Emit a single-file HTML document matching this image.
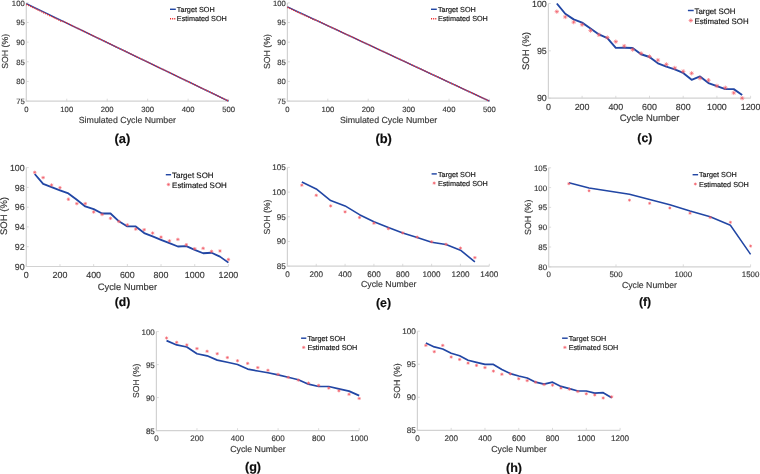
<!DOCTYPE html><html><head><meta charset="utf-8"><style>html,body{margin:0;padding:0;background:#fff;}svg{display:block;font-family:"Liberation Sans",sans-serif;}</style></head><body><svg width="760" height="474" viewBox="0 0 760 474"><rect width="760" height="474" fill="#fff"/><path d="M26.3 2.8V101.1H228.6" fill="none" stroke="#d2d2d2" stroke-width="1.2"/><path d="M26.3 101.1h2.4M26.3 81.44h2.4M26.3 61.78h2.4M26.3 42.12h2.4M26.3 22.46h2.4M26.3 2.8h2.4M26.3 101.1v-2.4M66.76 101.1v-2.4M107.22 101.1v-2.4M147.68 101.1v-2.4M188.14 101.1v-2.4M228.6 101.1v-2.4" stroke="#d2d2d2" stroke-width="0.8"/><polyline points="26.3,3.59 228.6,101.1" fill="none" stroke="#2146a4" stroke-width="1.4" stroke-linejoin="round"/><polyline points="26.3,4.29 61.9,21.48 63.12,21.32 228.6,101.1" fill="none" stroke="#f03030" stroke-width="1.5" stroke-dasharray="1.1 1"/><path d="M170 9.3H175.8" stroke="#2146a4" stroke-width="1.45"/><path d="M170 18.7H175.8" stroke="#f03030" stroke-width="1.5" stroke-dasharray="1.1 1"/><path d="M287.4 2.9V101.1H489.4" fill="none" stroke="#d2d2d2" stroke-width="1.2"/><path d="M287.4 101.1h2.4M287.4 81.46h2.4M287.4 61.82h2.4M287.4 42.18h2.4M287.4 22.54h2.4M287.4 2.9h2.4M287.4 101.1v-2.4M327.8 101.1v-2.4M368.2 101.1v-2.4M408.6 101.1v-2.4M449 101.1v-2.4M489.4 101.1v-2.4" stroke="#d2d2d2" stroke-width="0.8"/><polyline points="287.4,6.83 489.4,101.1" fill="none" stroke="#2146a4" stroke-width="1.4" stroke-linejoin="round"/><polyline points="287.4,7.3 314.06,19.71 314.87,19.63 489.4,101.1" fill="none" stroke="#f03030" stroke-width="1.5" stroke-dasharray="1.1 1"/><path d="M431 9.3H436.8" stroke="#2146a4" stroke-width="1.45"/><path d="M431 18.7H436.8" stroke="#f03030" stroke-width="1.5" stroke-dasharray="1.1 1"/><path d="M548.4 3.5V98.2H750.6" fill="none" stroke="#d2d2d2" stroke-width="1.2"/><path d="M548.4 98.2h2.4M548.4 50.85h2.4M548.4 3.5h2.4M548.4 98.2v-2.4M582.1 98.2v-2.4M615.8 98.2v-2.4M649.5 98.2v-2.4M683.2 98.2v-2.4M716.9 98.2v-2.4M750.6 98.2v-2.4" stroke="#d2d2d2" stroke-width="0.8"/><polyline points="556.82,3.5 565.25,13.73 573.67,19.41 582.1,22.63 590.52,28.5 598.95,34.47 607.38,38.07 615.8,47.91 624.23,47.72 632.65,48.01 641.08,54.26 649.5,57.01 657.92,63.35 666.35,66.57 674.77,69.32 683.2,72.92 691.62,79.83 700.05,76.42 708.48,83.05 716.9,86.17 725.33,89.11 733.75,89.11 742.18,94.98" fill="none" stroke="#2146a4" stroke-width="1.9" stroke-linejoin="round"/><path d="M554.64 11.64h4.36M556.82 9.46v4.36M555.3 10.12l3.05 3.05M555.3 13.17l3.05 -3.05" stroke="#f25c66" stroke-width="0.75" stroke-opacity="0.85"/><path d="M563.07 16.95h4.36M565.25 14.77v4.36M563.72 15.42l3.05 3.05M563.72 18.47l3.05 -3.05" stroke="#f25c66" stroke-width="0.75" stroke-opacity="0.85"/><path d="M571.5 22.16h4.36M573.67 19.98v4.36M572.15 20.63l3.05 3.05M572.15 23.68l3.05 -3.05" stroke="#f25c66" stroke-width="0.75" stroke-opacity="0.85"/><path d="M579.92 24.71h4.36M582.1 22.53v4.36M580.57 23.19l3.05 3.05M580.57 26.24l3.05 -3.05" stroke="#f25c66" stroke-width="0.75" stroke-opacity="0.85"/><path d="M588.35 30.58h4.36M590.52 28.4v4.36M589 29.06l3.05 3.05M589 32.11l3.05 -3.05" stroke="#f25c66" stroke-width="0.75" stroke-opacity="0.85"/><path d="M596.77 34.85h4.36M598.95 32.67v4.36M597.42 33.32l3.05 3.05M597.42 36.37l3.05 -3.05" stroke="#f25c66" stroke-width="0.75" stroke-opacity="0.85"/><path d="M605.2 37.59h4.36M607.38 35.41v4.36M605.85 36.07l3.05 3.05M605.85 39.12l3.05 -3.05" stroke="#f25c66" stroke-width="0.75" stroke-opacity="0.85"/><path d="M613.62 41.66h4.36M615.8 39.48v4.36M614.27 40.14l3.05 3.05M614.27 43.19l3.05 -3.05" stroke="#f25c66" stroke-width="0.75" stroke-opacity="0.85"/><path d="M622.05 46.12h4.36M624.23 43.94v4.36M622.7 44.59l3.05 3.05M622.7 47.64l3.05 -3.05" stroke="#f25c66" stroke-width="0.75" stroke-opacity="0.85"/><path d="M630.47 49.62h4.36M632.65 47.44v4.36M631.12 48.09l3.05 3.05M631.12 51.14l3.05 -3.05" stroke="#f25c66" stroke-width="0.75" stroke-opacity="0.85"/><path d="M638.9 53.41h4.36M641.08 51.23v4.36M639.55 51.88l3.05 3.05M639.55 54.93l3.05 -3.05" stroke="#f25c66" stroke-width="0.75" stroke-opacity="0.85"/><path d="M647.32 56.53h4.36M649.5 54.35v4.36M647.97 55.01l3.05 3.05M647.97 58.06l3.05 -3.05" stroke="#f25c66" stroke-width="0.75" stroke-opacity="0.85"/><path d="M655.75 60.13h4.36M657.92 57.95v4.36M656.4 58.6l3.05 3.05M656.4 61.66l3.05 -3.05" stroke="#f25c66" stroke-width="0.75" stroke-opacity="0.85"/><path d="M664.17 64.39h4.36M666.35 62.21v4.36M664.82 62.87l3.05 3.05M664.82 65.92l3.05 -3.05" stroke="#f25c66" stroke-width="0.75" stroke-opacity="0.85"/><path d="M672.6 67.99h4.36M674.77 65.81v4.36M673.25 66.46l3.05 3.05M673.25 69.52l3.05 -3.05" stroke="#f25c66" stroke-width="0.75" stroke-opacity="0.85"/><path d="M681.02 71.4h4.36M683.2 69.22v4.36M681.67 69.87l3.05 3.05M681.67 72.93l3.05 -3.05" stroke="#f25c66" stroke-width="0.75" stroke-opacity="0.85"/><path d="M689.45 73.29h4.36M691.62 71.11v4.36M690.1 71.77l3.05 3.05M690.1 74.82l3.05 -3.05" stroke="#f25c66" stroke-width="0.75" stroke-opacity="0.85"/><path d="M697.87 78.22h4.36M700.05 76.04v4.36M698.52 76.69l3.05 3.05M698.52 79.74l3.05 -3.05" stroke="#f25c66" stroke-width="0.75" stroke-opacity="0.85"/><path d="M706.3 80.21h4.36M708.48 78.03v4.36M706.95 78.68l3.05 3.05M706.95 81.73l3.05 -3.05" stroke="#f25c66" stroke-width="0.75" stroke-opacity="0.85"/><path d="M714.72 85.89h4.36M716.9 83.71v4.36M715.37 84.36l3.05 3.05M715.37 87.42l3.05 -3.05" stroke="#f25c66" stroke-width="0.75" stroke-opacity="0.85"/><path d="M723.15 87.78h4.36M725.33 85.6v4.36M723.8 86.26l3.05 3.05M723.8 89.31l3.05 -3.05" stroke="#f25c66" stroke-width="0.75" stroke-opacity="0.85"/><path d="M731.57 92.9h4.36M733.75 90.72v4.36M732.22 91.37l3.05 3.05M732.22 94.42l3.05 -3.05" stroke="#f25c66" stroke-width="0.75" stroke-opacity="0.85"/><path d="M740 98.2h4.36M742.18 96.02v4.36M740.65 96.67l3.05 3.05M740.65 99.73l3.05 -3.05" stroke="#f25c66" stroke-width="0.75" stroke-opacity="0.85"/><path d="M687.9 10.5H693.7" stroke="#2146a4" stroke-width="1.45"/><path d="M688.62 20.5h4.36M690.8 18.32v4.36M689.27 18.97l3.05 3.05M689.27 22.03l3.05 -3.05" stroke="#f25c66" stroke-width="0.75" stroke-opacity="0.85"/><path d="M26.3 167.6V266.5H228.4" fill="none" stroke="#d2d2d2" stroke-width="1.2"/><path d="M26.3 266.5h2.4M26.3 246.72h2.4M26.3 226.94h2.4M26.3 207.16h2.4M26.3 187.38h2.4M26.3 167.6h2.4M26.3 266.5v-2.4M59.98 266.5v-2.4M93.67 266.5v-2.4M127.35 266.5v-2.4M161.03 266.5v-2.4M194.72 266.5v-2.4M228.4 266.5v-2.4" stroke="#d2d2d2" stroke-width="0.8"/><polyline points="34.72,174.03 43.14,183.92 51.56,187.08 59.98,190.35 68.4,193.41 76.83,199.84 85.25,206.47 93.67,209.14 102.09,213.49 110.51,213.49 118.93,221.3 127.35,226.45 135.77,226.45 144.19,233.07 152.61,236.43 161.03,239.8 169.45,243.16 177.88,246.52 186.3,246.13 194.72,249.88 203.14,253.25 211.56,252.75 219.98,256.61 228.4,262.64" fill="none" stroke="#2146a4" stroke-width="1.8" stroke-linejoin="round"/><path d="M33 172.35h3.44M34.72 170.63v3.44M33.52 171.14l2.41 2.41M33.52 173.55l2.41 -2.41" stroke="#f25c66" stroke-width="0.75" stroke-opacity="0.85"/><path d="M41.42 177.59h3.44M43.14 175.87v3.44M41.94 176.38l2.41 2.41M41.94 178.79l2.41 -2.41" stroke="#f25c66" stroke-width="0.75" stroke-opacity="0.85"/><path d="M49.84 185.01h3.44M51.56 183.29v3.44M50.36 183.8l2.41 2.41M50.36 186.21l2.41 -2.41" stroke="#f25c66" stroke-width="0.75" stroke-opacity="0.85"/><path d="M58.26 187.68h3.44M59.98 185.96v3.44M58.78 186.47l2.41 2.41M58.78 188.88l2.41 -2.41" stroke="#f25c66" stroke-width="0.75" stroke-opacity="0.85"/><path d="M66.68 199.25h3.44M68.4 197.53v3.44M67.2 198.04l2.41 2.41M67.2 200.45l2.41 -2.41" stroke="#f25c66" stroke-width="0.75" stroke-opacity="0.85"/><path d="M75.11 203.6h3.44M76.83 201.88v3.44M75.62 202.4l2.41 2.41M75.62 204.8l2.41 -2.41" stroke="#f25c66" stroke-width="0.75" stroke-opacity="0.85"/><path d="M83.53 203.6h3.44M85.25 201.88v3.44M84.04 202.4l2.41 2.41M84.04 204.8l2.41 -2.41" stroke="#f25c66" stroke-width="0.75" stroke-opacity="0.85"/><path d="M91.95 212.01h3.44M93.67 210.29v3.44M92.46 210.8l2.41 2.41M92.46 213.21l2.41 -2.41" stroke="#f25c66" stroke-width="0.75" stroke-opacity="0.85"/><path d="M100.37 214.48h3.44M102.09 212.76v3.44M100.88 213.27l2.41 2.41M100.88 215.68l2.41 -2.41" stroke="#f25c66" stroke-width="0.75" stroke-opacity="0.85"/><path d="M108.79 218.34h3.44M110.51 216.62v3.44M109.3 217.13l2.41 2.41M109.3 219.54l2.41 -2.41" stroke="#f25c66" stroke-width="0.75" stroke-opacity="0.85"/><path d="M117.21 221.5h3.44M118.93 219.78v3.44M117.73 220.3l2.41 2.41M117.73 222.7l2.41 -2.41" stroke="#f25c66" stroke-width="0.75" stroke-opacity="0.85"/><path d="M125.63 224.86h3.44M127.35 223.14v3.44M126.15 223.66l2.41 2.41M126.15 226.07l2.41 -2.41" stroke="#f25c66" stroke-width="0.75" stroke-opacity="0.85"/><path d="M134.05 229.12h3.44M135.77 227.4v3.44M134.57 227.91l2.41 2.41M134.57 230.32l2.41 -2.41" stroke="#f25c66" stroke-width="0.75" stroke-opacity="0.85"/><path d="M142.47 229.71h3.44M144.19 227.99v3.44M142.99 228.51l2.41 2.41M142.99 230.91l2.41 -2.41" stroke="#f25c66" stroke-width="0.75" stroke-opacity="0.85"/><path d="M150.89 233.07h3.44M152.61 231.35v3.44M151.41 231.87l2.41 2.41M151.41 234.28l2.41 -2.41" stroke="#f25c66" stroke-width="0.75" stroke-opacity="0.85"/><path d="M159.31 237.13h3.44M161.03 235.41v3.44M159.83 235.92l2.41 2.41M159.83 238.33l2.41 -2.41" stroke="#f25c66" stroke-width="0.75" stroke-opacity="0.85"/><path d="M167.73 240.88h3.44M169.45 239.16v3.44M168.25 239.68l2.41 2.41M168.25 242.09l2.41 -2.41" stroke="#f25c66" stroke-width="0.75" stroke-opacity="0.85"/><path d="M176.16 239.4h3.44M177.88 237.68v3.44M176.67 238.2l2.41 2.41M176.67 240.61l2.41 -2.41" stroke="#f25c66" stroke-width="0.75" stroke-opacity="0.85"/><path d="M184.58 244.74h3.44M186.3 243.02v3.44M185.09 243.54l2.41 2.41M185.09 245.95l2.41 -2.41" stroke="#f25c66" stroke-width="0.75" stroke-opacity="0.85"/><path d="M193 248.7h3.44M194.72 246.98v3.44M193.51 247.49l2.41 2.41M193.51 249.9l2.41 -2.41" stroke="#f25c66" stroke-width="0.75" stroke-opacity="0.85"/><path d="M201.42 248.3h3.44M203.14 246.58v3.44M201.93 247.1l2.41 2.41M201.93 249.51l2.41 -2.41" stroke="#f25c66" stroke-width="0.75" stroke-opacity="0.85"/><path d="M209.84 251.37h3.44M211.56 249.65v3.44M210.35 250.16l2.41 2.41M210.35 252.57l2.41 -2.41" stroke="#f25c66" stroke-width="0.75" stroke-opacity="0.85"/><path d="M218.26 250.97h3.44M219.98 249.25v3.44M218.78 249.77l2.41 2.41M218.78 252.18l2.41 -2.41" stroke="#f25c66" stroke-width="0.75" stroke-opacity="0.85"/><path d="M226.68 259.48h3.44M228.4 257.76v3.44M227.2 258.27l2.41 2.41M227.2 260.68l2.41 -2.41" stroke="#f25c66" stroke-width="0.75" stroke-opacity="0.85"/><path d="M165.8 174.7H171.1" stroke="#2146a4" stroke-width="1.45"/><path d="M166.73 184.5h3.44M168.45 182.78v3.44M167.25 183.3l2.41 2.41M167.25 185.7l2.41 -2.41" stroke="#f25c66" stroke-width="0.75" stroke-opacity="0.85"/><path d="M287.4 167.4V266.2H489.3" fill="none" stroke="#d2d2d2" stroke-width="1.2"/><path d="M287.4 266.2h2.4M287.4 241.5h2.4M287.4 216.8h2.4M287.4 192.1h2.4M287.4 167.4h2.4M287.4 266.2v-2.4M316.24 266.2v-2.4M345.09 266.2v-2.4M373.93 266.2v-2.4M402.77 266.2v-2.4M431.61 266.2v-2.4M460.46 266.2v-2.4M489.3 266.2v-2.4" stroke="#d2d2d2" stroke-width="0.8"/><polyline points="301.82,182.02 316.24,188.99 330.66,200.6 345.09,205.93 359.51,214.68 373.93,221.69 388.35,227.42 402.77,232.9 417.19,237.5 431.61,242.19 446.04,244.51 460.46,250.19 474.88,261.8" fill="none" stroke="#2146a4" stroke-width="1.6" stroke-linejoin="round"/><path d="M300.21 185.18h3.22M301.82 183.57v3.22M300.69 184.06l2.25 2.25M300.69 186.31l2.25 -2.25" stroke="#f25c66" stroke-width="0.75" stroke-opacity="0.85"/><path d="M314.63 195.31h3.22M316.24 193.7v3.22M315.12 194.18l2.25 2.25M315.12 196.44l2.25 -2.25" stroke="#f25c66" stroke-width="0.75" stroke-opacity="0.85"/><path d="M329.05 205.93h3.22M330.66 204.32v3.22M329.54 204.8l2.25 2.25M329.54 207.06l2.25 -2.25" stroke="#f25c66" stroke-width="0.75" stroke-opacity="0.85"/><path d="M343.48 211.86h3.22M345.09 210.25v3.22M343.96 210.73l2.25 2.25M343.96 212.99l2.25 -2.25" stroke="#f25c66" stroke-width="0.75" stroke-opacity="0.85"/><path d="M357.9 217.49h3.22M359.51 215.88v3.22M358.38 216.36l2.25 2.25M358.38 218.62l2.25 -2.25" stroke="#f25c66" stroke-width="0.75" stroke-opacity="0.85"/><path d="M372.32 223.22h3.22M373.93 221.61v3.22M372.8 222.09l2.25 2.25M372.8 224.35l2.25 -2.25" stroke="#f25c66" stroke-width="0.75" stroke-opacity="0.85"/><path d="M386.74 228.66h3.22M388.35 227.05v3.22M387.22 227.53l2.25 2.25M387.22 229.78l2.25 -2.25" stroke="#f25c66" stroke-width="0.75" stroke-opacity="0.85"/><path d="M401.16 232.9h3.22M402.77 231.29v3.22M401.64 231.78l2.25 2.25M401.64 234.03l2.25 -2.25" stroke="#f25c66" stroke-width="0.75" stroke-opacity="0.85"/><path d="M415.58 237.1h3.22M417.19 235.49v3.22M416.07 235.98l2.25 2.25M416.07 238.23l2.25 -2.25" stroke="#f25c66" stroke-width="0.75" stroke-opacity="0.85"/><path d="M430 241.75h3.22M431.61 240.14v3.22M430.49 240.62l2.25 2.25M430.49 242.87l2.25 -2.25" stroke="#f25c66" stroke-width="0.75" stroke-opacity="0.85"/><path d="M444.43 244.32h3.22M446.04 242.71v3.22M444.91 243.19l2.25 2.25M444.91 245.44l2.25 -2.25" stroke="#f25c66" stroke-width="0.75" stroke-opacity="0.85"/><path d="M458.85 248.12h3.22M460.46 246.51v3.22M459.33 246.99l2.25 2.25M459.33 249.25l2.25 -2.25" stroke="#f25c66" stroke-width="0.75" stroke-opacity="0.85"/><path d="M473.27 257.6h3.22M474.88 255.99v3.22M473.75 256.48l2.25 2.25M473.75 258.73l2.25 -2.25" stroke="#f25c66" stroke-width="0.75" stroke-opacity="0.85"/><path d="M431.6 173.9H436.8" stroke="#2146a4" stroke-width="1.45"/><path d="M432.59 183.1h3.22M434.2 181.49v3.22M433.07 181.97l2.25 2.25M433.07 184.23l2.25 -2.25" stroke="#f25c66" stroke-width="0.75" stroke-opacity="0.85"/><path d="M548.7 167.8V266.8H750.6" fill="none" stroke="#d2d2d2" stroke-width="1.2"/><path d="M548.7 266.8h2.4M548.7 247h2.4M548.7 227.2h2.4M548.7 207.4h2.4M548.7 187.6h2.4M548.7 167.8h2.4M548.7 266.8v-2.4M616 266.8v-2.4M683.3 266.8v-2.4M750.6 266.8v-2.4" stroke="#d2d2d2" stroke-width="0.8"/><polyline points="568.89,182.69 589.08,187.92 629.46,194.33 649.65,199.48 669.84,204.79 690.03,211.08 710.22,216.79 730.41,225.3 750.6,254.41" fill="none" stroke="#2146a4" stroke-width="1.5" stroke-linejoin="round"/><path d="M567.4 183.72h2.98M568.89 182.23v2.98M567.85 182.68l2.09 2.09M567.85 184.76l2.09 -2.09" stroke="#f25c66" stroke-width="0.75" stroke-opacity="0.85"/><path d="M587.59 190.77h2.98M589.08 189.28v2.98M588.04 189.72l2.09 2.09M588.04 191.81l2.09 -2.09" stroke="#f25c66" stroke-width="0.75" stroke-opacity="0.85"/><path d="M627.97 200.19h2.98M629.46 198.7v2.98M628.42 199.15l2.09 2.09M628.42 201.24l2.09 -2.09" stroke="#f25c66" stroke-width="0.75" stroke-opacity="0.85"/><path d="M648.16 203.32h2.98M649.65 201.83v2.98M648.61 202.28l2.09 2.09M648.61 204.36l2.09 -2.09" stroke="#f25c66" stroke-width="0.75" stroke-opacity="0.85"/><path d="M668.35 207.99h2.98M669.84 206.5v2.98M668.8 206.95l2.09 2.09M668.8 209.04l2.09 -2.09" stroke="#f25c66" stroke-width="0.75" stroke-opacity="0.85"/><path d="M688.54 213.22h2.98M690.03 211.73v2.98M688.99 212.18l2.09 2.09M688.99 214.26l2.09 -2.09" stroke="#f25c66" stroke-width="0.75" stroke-opacity="0.85"/><path d="M708.73 217.5h2.98M710.22 216.01v2.98M709.18 216.45l2.09 2.09M709.18 218.54l2.09 -2.09" stroke="#f25c66" stroke-width="0.75" stroke-opacity="0.85"/><path d="M728.92 222.29h2.98M730.41 220.8v2.98M729.37 221.25l2.09 2.09M729.37 223.33l2.09 -2.09" stroke="#f25c66" stroke-width="0.75" stroke-opacity="0.85"/><path d="M749.11 246.01h2.98M750.6 244.52v2.98M749.56 244.97l2.09 2.09M749.56 247.05l2.09 -2.09" stroke="#f25c66" stroke-width="0.75" stroke-opacity="0.85"/><path d="M692.6 174.7H698.1" stroke="#2146a4" stroke-width="1.45"/><path d="M693.86 184h2.98M695.35 182.51v2.98M694.31 182.96l2.09 2.09M694.31 185.04l2.09 -2.09" stroke="#f25c66" stroke-width="0.75" stroke-opacity="0.85"/><path d="M156.4 331.6V430.6H359.2" fill="none" stroke="#d2d2d2" stroke-width="1.2"/><path d="M156.4 430.6h2.4M156.4 397.6h2.4M156.4 364.6h2.4M156.4 331.6h2.4M156.4 430.6v-2.4M196.96 430.6v-2.4M237.52 430.6v-2.4M278.08 430.6v-2.4M318.64 430.6v-2.4M359.2 430.6v-2.4" stroke="#d2d2d2" stroke-width="0.8"/><polyline points="166.54,340.64 176.68,344.93 186.82,347.04 196.96,353.71 207.1,355.82 217.24,360.11 227.38,362.22 237.52,364.53 247.66,369.09 257.8,371 267.94,372.78 278.08,374.9 288.22,377.21 298.36,379.71 308.5,384.2 318.64,386.51 328.78,386.51 338.92,388.82 349.06,391.13 359.2,395.62" fill="none" stroke="#2146a4" stroke-width="1.7" stroke-linejoin="round"/><path d="M164.93 338h3.22M166.54 336.39v3.22M165.41 336.88l2.25 2.25M165.41 339.13l2.25 -2.25" stroke="#f25c66" stroke-width="0.75" stroke-opacity="0.85"/><path d="M175.07 342.36h3.22M176.68 340.75v3.22M175.55 341.23l2.25 2.25M175.55 343.49l2.25 -2.25" stroke="#f25c66" stroke-width="0.75" stroke-opacity="0.85"/><path d="M185.21 344.93h3.22M186.82 343.32v3.22M185.69 343.81l2.25 2.25M185.69 346.06l2.25 -2.25" stroke="#f25c66" stroke-width="0.75" stroke-opacity="0.85"/><path d="M195.35 348.56h3.22M196.96 346.95v3.22M195.83 347.44l2.25 2.25M195.83 349.69l2.25 -2.25" stroke="#f25c66" stroke-width="0.75" stroke-opacity="0.85"/><path d="M205.49 351.27h3.22M207.1 349.66v3.22M205.97 350.14l2.25 2.25M205.97 352.4l2.25 -2.25" stroke="#f25c66" stroke-width="0.75" stroke-opacity="0.85"/><path d="M215.63 353.71h3.22M217.24 352.1v3.22M216.11 352.58l2.25 2.25M216.11 354.84l2.25 -2.25" stroke="#f25c66" stroke-width="0.75" stroke-opacity="0.85"/><path d="M225.77 357.54h3.22M227.38 355.93v3.22M226.25 356.41l2.25 2.25M226.25 358.67l2.25 -2.25" stroke="#f25c66" stroke-width="0.75" stroke-opacity="0.85"/><path d="M235.91 360.71h3.22M237.52 359.1v3.22M236.39 359.58l2.25 2.25M236.39 361.83l2.25 -2.25" stroke="#f25c66" stroke-width="0.75" stroke-opacity="0.85"/><path d="M246.05 363.41h3.22M247.66 361.8v3.22M246.53 362.28l2.25 2.25M246.53 364.54l2.25 -2.25" stroke="#f25c66" stroke-width="0.75" stroke-opacity="0.85"/><path d="M256.19 367.57h3.22M257.8 365.96v3.22M256.67 366.44l2.25 2.25M256.67 368.7l2.25 -2.25" stroke="#f25c66" stroke-width="0.75" stroke-opacity="0.85"/><path d="M266.33 370.28h3.22M267.94 368.67v3.22M266.81 369.15l2.25 2.25M266.81 371.4l2.25 -2.25" stroke="#f25c66" stroke-width="0.75" stroke-opacity="0.85"/><path d="M276.47 374.37h3.22M278.08 372.76v3.22M276.95 373.24l2.25 2.25M276.95 375.5l2.25 -2.25" stroke="#f25c66" stroke-width="0.75" stroke-opacity="0.85"/><path d="M286.61 377.4h3.22M288.22 375.79v3.22M287.09 376.28l2.25 2.25M287.09 378.53l2.25 -2.25" stroke="#f25c66" stroke-width="0.75" stroke-opacity="0.85"/><path d="M296.75 380.11h3.22M298.36 378.5v3.22M297.23 378.98l2.25 2.25M297.23 381.24l2.25 -2.25" stroke="#f25c66" stroke-width="0.75" stroke-opacity="0.85"/><path d="M306.89 383.08h3.22M308.5 381.47v3.22M307.37 381.95l2.25 2.25M307.37 384.21l2.25 -2.25" stroke="#f25c66" stroke-width="0.75" stroke-opacity="0.85"/><path d="M317.03 385.39h3.22M318.64 383.78v3.22M317.51 384.26l2.25 2.25M317.51 386.52l2.25 -2.25" stroke="#f25c66" stroke-width="0.75" stroke-opacity="0.85"/><path d="M327.17 388.1h3.22M328.78 386.49v3.22M327.65 386.97l2.25 2.25M327.65 389.22l2.25 -2.25" stroke="#f25c66" stroke-width="0.75" stroke-opacity="0.85"/><path d="M337.31 390.8h3.22M338.92 389.19v3.22M337.79 389.68l2.25 2.25M337.79 391.93l2.25 -2.25" stroke="#f25c66" stroke-width="0.75" stroke-opacity="0.85"/><path d="M347.45 394.3h3.22M349.06 392.69v3.22M347.93 393.17l2.25 2.25M347.93 395.43l2.25 -2.25" stroke="#f25c66" stroke-width="0.75" stroke-opacity="0.85"/><path d="M357.59 398.46h3.22M359.2 396.85v3.22M358.07 397.33l2.25 2.25M358.07 399.58l2.25 -2.25" stroke="#f25c66" stroke-width="0.75" stroke-opacity="0.85"/><path d="M301.1 338.2H306.3" stroke="#2146a4" stroke-width="1.45"/><path d="M302.09 347.4h3.22M303.7 345.79v3.22M302.57 346.27l2.25 2.25M302.57 348.53l2.25 -2.25" stroke="#f25c66" stroke-width="0.75" stroke-opacity="0.85"/><path d="M417.4 331.2V430.3H620.1" fill="none" stroke="#d2d2d2" stroke-width="1.2"/><path d="M417.4 430.3h2.4M417.4 397.27h2.4M417.4 364.23h2.4M417.4 331.2h2.4M417.4 430.3v-2.4M451.18 430.3v-2.4M484.97 430.3v-2.4M518.75 430.3v-2.4M552.53 430.3v-2.4M586.32 430.3v-2.4M620.1 430.3v-2.4" stroke="#d2d2d2" stroke-width="0.8"/><polyline points="425.85,343.09 434.29,346.92 442.74,349.04 451.18,353.2 459.63,355.71 468.07,360.2 476.52,362.32 484.97,364.43 493.41,364.43 501.86,369.52 510.3,373.61 518.75,375.99 527.2,377.98 535.64,382.2 544.09,384.12 552.53,382.2 560.98,386.43 569.42,388.68 577.87,390.99 586.32,390.99 594.76,393.1 603.21,392.71 611.65,397.8" fill="none" stroke="#2146a4" stroke-width="1.7" stroke-linejoin="round"/><path d="M424.24 345.4h3.22M425.85 343.79v3.22M424.72 344.28l2.25 2.25M424.72 346.53l2.25 -2.25" stroke="#f25c66" stroke-width="0.75" stroke-opacity="0.85"/><path d="M432.68 351.68h3.22M434.29 350.07v3.22M433.16 350.55l2.25 2.25M433.16 352.81l2.25 -2.25" stroke="#f25c66" stroke-width="0.75" stroke-opacity="0.85"/><path d="M441.13 345.4h3.22M442.74 343.79v3.22M441.61 344.28l2.25 2.25M441.61 346.53l2.25 -2.25" stroke="#f25c66" stroke-width="0.75" stroke-opacity="0.85"/><path d="M449.57 357.03h3.22M451.18 355.42v3.22M450.06 355.91l2.25 2.25M450.06 358.16l2.25 -2.25" stroke="#f25c66" stroke-width="0.75" stroke-opacity="0.85"/><path d="M458.02 359.48h3.22M459.63 357.87v3.22M458.5 358.35l2.25 2.25M458.5 360.6l2.25 -2.25" stroke="#f25c66" stroke-width="0.75" stroke-opacity="0.85"/><path d="M466.46 363.11h3.22M468.07 361.5v3.22M466.95 361.98l2.25 2.25M466.95 364.24l2.25 -2.25" stroke="#f25c66" stroke-width="0.75" stroke-opacity="0.85"/><path d="M474.91 365.42h3.22M476.52 363.81v3.22M475.39 364.3l2.25 2.25M475.39 366.55l2.25 -2.25" stroke="#f25c66" stroke-width="0.75" stroke-opacity="0.85"/><path d="M483.36 367.6h3.22M484.97 365.99v3.22M483.84 366.48l2.25 2.25M483.84 368.73l2.25 -2.25" stroke="#f25c66" stroke-width="0.75" stroke-opacity="0.85"/><path d="M491.8 371.1h3.22M493.41 369.49v3.22M492.29 369.98l2.25 2.25M492.29 372.23l2.25 -2.25" stroke="#f25c66" stroke-width="0.75" stroke-opacity="0.85"/><path d="M500.25 374.28h3.22M501.86 372.67v3.22M500.73 373.15l2.25 2.25M500.73 375.4l2.25 -2.25" stroke="#f25c66" stroke-width="0.75" stroke-opacity="0.85"/><path d="M508.69 373.88h3.22M510.3 372.27v3.22M509.18 372.75l2.25 2.25M509.18 375.01l2.25 -2.25" stroke="#f25c66" stroke-width="0.75" stroke-opacity="0.85"/><path d="M517.14 378.7h3.22M518.75 377.09v3.22M517.62 377.57l2.25 2.25M517.62 379.83l2.25 -2.25" stroke="#f25c66" stroke-width="0.75" stroke-opacity="0.85"/><path d="M525.59 380.62h3.22M527.2 379.01v3.22M526.07 379.49l2.25 2.25M526.07 381.74l2.25 -2.25" stroke="#f25c66" stroke-width="0.75" stroke-opacity="0.85"/><path d="M534.03 382.2h3.22M535.64 380.59v3.22M534.51 381.08l2.25 2.25M534.51 383.33l2.25 -2.25" stroke="#f25c66" stroke-width="0.75" stroke-opacity="0.85"/><path d="M542.48 384.52h3.22M544.09 382.91v3.22M542.96 383.39l2.25 2.25M542.96 385.64l2.25 -2.25" stroke="#f25c66" stroke-width="0.75" stroke-opacity="0.85"/><path d="M550.92 385.18h3.22M552.53 383.57v3.22M551.41 384.05l2.25 2.25M551.41 386.3l2.25 -2.25" stroke="#f25c66" stroke-width="0.75" stroke-opacity="0.85"/><path d="M559.37 388.02h3.22M560.98 386.41v3.22M559.85 386.89l2.25 2.25M559.85 389.14l2.25 -2.25" stroke="#f25c66" stroke-width="0.75" stroke-opacity="0.85"/><path d="M567.81 389.21h3.22M569.42 387.6v3.22M568.3 388.08l2.25 2.25M568.3 390.33l2.25 -2.25" stroke="#f25c66" stroke-width="0.75" stroke-opacity="0.85"/><path d="M576.26 391.52h3.22M577.87 389.91v3.22M576.74 390.39l2.25 2.25M576.74 392.65l2.25 -2.25" stroke="#f25c66" stroke-width="0.75" stroke-opacity="0.85"/><path d="M584.71 393.77h3.22M586.32 392.16v3.22M585.19 392.64l2.25 2.25M585.19 394.89l2.25 -2.25" stroke="#f25c66" stroke-width="0.75" stroke-opacity="0.85"/><path d="M593.15 394.95h3.22M594.76 393.34v3.22M593.64 393.83l2.25 2.25M593.64 396.08l2.25 -2.25" stroke="#f25c66" stroke-width="0.75" stroke-opacity="0.85"/><path d="M601.6 397.99h3.22M603.21 396.38v3.22M602.08 396.87l2.25 2.25M602.08 399.12l2.25 -2.25" stroke="#f25c66" stroke-width="0.75" stroke-opacity="0.85"/><path d="M610.04 396.8h3.22M611.65 395.19v3.22M610.53 395.68l2.25 2.25M610.53 397.93l2.25 -2.25" stroke="#f25c66" stroke-width="0.75" stroke-opacity="0.85"/><path d="M562.1 338.2H567.7" stroke="#2146a4" stroke-width="1.45"/><path d="M563.29 347.4h3.22M564.9 345.79v3.22M563.77 346.27l2.25 2.25M563.77 348.53l2.25 -2.25" stroke="#f25c66" stroke-width="0.75" stroke-opacity="0.85"/><defs><filter id="soft" filterUnits="userSpaceOnUse" x="0" y="0" width="760" height="474"><feGaussianBlur stdDeviation="0.32"/></filter></defs><g filter="url(#soft)" text-rendering="geometricPrecision" stroke-width="0.15"><text x="24.7" y="103.93" font-size="7.7" text-anchor="end" fill="#363636" stroke="#363636">75</text><text x="24.7" y="84.27" font-size="7.7" text-anchor="end" fill="#363636" stroke="#363636">80</text><text x="24.7" y="64.61" font-size="7.7" text-anchor="end" fill="#363636" stroke="#363636">85</text><text x="24.7" y="44.95" font-size="7.7" text-anchor="end" fill="#363636" stroke="#363636">90</text><text x="24.7" y="25.29" font-size="7.7" text-anchor="end" fill="#363636" stroke="#363636">95</text><text x="24.7" y="5.63" font-size="7.7" text-anchor="end" fill="#363636" stroke="#363636">100</text><text x="26.3" y="112.25" font-size="7.7" text-anchor="middle" fill="#363636" stroke="#363636">0</text><text x="66.76" y="112.25" font-size="7.7" text-anchor="middle" fill="#363636" stroke="#363636">100</text><text x="107.22" y="112.25" font-size="7.7" text-anchor="middle" fill="#363636" stroke="#363636">200</text><text x="147.68" y="112.25" font-size="7.7" text-anchor="middle" fill="#363636" stroke="#363636">300</text><text x="188.14" y="112.25" font-size="7.7" text-anchor="middle" fill="#363636" stroke="#363636">400</text><text x="228.6" y="112.25" font-size="7.7" text-anchor="middle" fill="#363636" stroke="#363636">500</text><text x="127.4" y="122.6" font-size="8.8" text-anchor="middle" fill="#363636" stroke="#363636">Simulated Cycle Number</text><text transform="translate(8.4 51.3) rotate(-90)" font-size="8.75" text-anchor="middle" fill="#363636" stroke="#363636">SOH (%)</text><text x="122.4" y="143.1" font-size="12.9" font-weight="bold" text-anchor="middle" fill="#0a0a0a" stroke="#0a0a0a">(a)</text><text x="176.8" y="11.8" font-size="7.25" fill="#111111" stroke="#111111">Target SOH</text><text x="176.8" y="21" font-size="7.25" fill="#111111" stroke="#111111">Estimated SOH</text><text x="285.8" y="103.93" font-size="7.7" text-anchor="end" fill="#363636" stroke="#363636">75</text><text x="285.8" y="84.29" font-size="7.7" text-anchor="end" fill="#363636" stroke="#363636">80</text><text x="285.8" y="64.65" font-size="7.7" text-anchor="end" fill="#363636" stroke="#363636">85</text><text x="285.8" y="45.01" font-size="7.7" text-anchor="end" fill="#363636" stroke="#363636">90</text><text x="285.8" y="25.37" font-size="7.7" text-anchor="end" fill="#363636" stroke="#363636">95</text><text x="285.8" y="5.73" font-size="7.7" text-anchor="end" fill="#363636" stroke="#363636">100</text><text x="287.4" y="112.25" font-size="7.7" text-anchor="middle" fill="#363636" stroke="#363636">0</text><text x="327.8" y="112.25" font-size="7.7" text-anchor="middle" fill="#363636" stroke="#363636">100</text><text x="368.2" y="112.25" font-size="7.7" text-anchor="middle" fill="#363636" stroke="#363636">200</text><text x="408.6" y="112.25" font-size="7.7" text-anchor="middle" fill="#363636" stroke="#363636">300</text><text x="449" y="112.25" font-size="7.7" text-anchor="middle" fill="#363636" stroke="#363636">400</text><text x="489.4" y="112.25" font-size="7.7" text-anchor="middle" fill="#363636" stroke="#363636">500</text><text x="388.6" y="122.6" font-size="8.8" text-anchor="middle" fill="#363636" stroke="#363636">Simulated Cycle Number</text><text transform="translate(269.6 51.6) rotate(-90)" font-size="8.75" text-anchor="middle" fill="#363636" stroke="#363636">SOH (%)</text><text x="383.7" y="143.1" font-size="12.9" font-weight="bold" text-anchor="middle" fill="#0a0a0a" stroke="#0a0a0a">(b)</text><text x="437.9" y="11.8" font-size="7.25" fill="#111111" stroke="#111111">Target SOH</text><text x="437.9" y="21" font-size="7.25" fill="#111111" stroke="#111111">Estimated SOH</text><text x="546.8" y="101.44" font-size="8.88" text-anchor="end" fill="#363636" stroke="#363636">90</text><text x="546.8" y="54.09" font-size="8.88" text-anchor="end" fill="#363636" stroke="#363636">95</text><text x="546.8" y="6.74" font-size="8.88" text-anchor="end" fill="#363636" stroke="#363636">100</text><text x="548.4" y="110.09" font-size="8.88" text-anchor="middle" fill="#363636" stroke="#363636">0</text><text x="582.1" y="110.09" font-size="8.88" text-anchor="middle" fill="#363636" stroke="#363636">200</text><text x="615.8" y="110.09" font-size="8.88" text-anchor="middle" fill="#363636" stroke="#363636">400</text><text x="649.5" y="110.09" font-size="8.88" text-anchor="middle" fill="#363636" stroke="#363636">600</text><text x="683.2" y="110.09" font-size="8.88" text-anchor="middle" fill="#363636" stroke="#363636">800</text><text x="716.9" y="110.09" font-size="8.88" text-anchor="middle" fill="#363636" stroke="#363636">1000</text><text x="750.6" y="110.09" font-size="8.88" text-anchor="middle" fill="#363636" stroke="#363636">1200</text><text x="649.6" y="121.2" font-size="9.45" text-anchor="middle" fill="#363636" stroke="#363636">Cycle Number</text><text transform="translate(529 51) rotate(-90)" font-size="9.5" text-anchor="middle" fill="#363636" stroke="#363636">SOH (%)</text><text x="644.8" y="141.9" font-size="12.2" font-weight="bold" text-anchor="middle" fill="#0a0a0a" stroke="#0a0a0a">(c)</text><text x="694.5" y="13.9" font-size="7.85" fill="#111111" stroke="#111111">Target SOH</text><text x="694.5" y="23.7" font-size="7.85" fill="#111111" stroke="#111111">Estimated SOH</text><text x="24.7" y="269.74" font-size="8.88" text-anchor="end" fill="#363636" stroke="#363636">90</text><text x="24.7" y="249.96" font-size="8.88" text-anchor="end" fill="#363636" stroke="#363636">92</text><text x="24.7" y="230.18" font-size="8.88" text-anchor="end" fill="#363636" stroke="#363636">94</text><text x="24.7" y="210.4" font-size="8.88" text-anchor="end" fill="#363636" stroke="#363636">96</text><text x="24.7" y="190.62" font-size="8.88" text-anchor="end" fill="#363636" stroke="#363636">98</text><text x="24.7" y="170.84" font-size="8.88" text-anchor="end" fill="#363636" stroke="#363636">100</text><text x="26.3" y="277.69" font-size="8.88" text-anchor="middle" fill="#363636" stroke="#363636">0</text><text x="59.98" y="277.69" font-size="8.88" text-anchor="middle" fill="#363636" stroke="#363636">200</text><text x="93.67" y="277.69" font-size="8.88" text-anchor="middle" fill="#363636" stroke="#363636">400</text><text x="127.35" y="277.69" font-size="8.88" text-anchor="middle" fill="#363636" stroke="#363636">600</text><text x="161.03" y="277.69" font-size="8.88" text-anchor="middle" fill="#363636" stroke="#363636">800</text><text x="194.72" y="277.69" font-size="8.88" text-anchor="middle" fill="#363636" stroke="#363636">1000</text><text x="228.4" y="277.69" font-size="8.88" text-anchor="middle" fill="#363636" stroke="#363636">1200</text><text x="127.4" y="289.5" font-size="9.4" text-anchor="middle" fill="#363636" stroke="#363636">Cycle Number</text><text transform="translate(7.3 216) rotate(-90)" font-size="9.5" text-anchor="middle" fill="#363636" stroke="#363636">SOH (%)</text><text x="122.6" y="306.2" font-size="12.2" font-weight="bold" text-anchor="middle" fill="#0a0a0a" stroke="#0a0a0a">(d)</text><text x="172.1" y="177.8" font-size="7.95" fill="#111111" stroke="#111111">Target SOH</text><text x="172.1" y="187.6" font-size="7.95" fill="#111111" stroke="#111111">Estimated SOH</text><text x="285.8" y="269.18" font-size="8.13" text-anchor="end" fill="#363636" stroke="#363636">85</text><text x="285.8" y="244.48" font-size="8.13" text-anchor="end" fill="#363636" stroke="#363636">90</text><text x="285.8" y="219.78" font-size="8.13" text-anchor="end" fill="#363636" stroke="#363636">95</text><text x="285.8" y="195.08" font-size="8.13" text-anchor="end" fill="#363636" stroke="#363636">100</text><text x="285.8" y="170.38" font-size="8.13" text-anchor="end" fill="#363636" stroke="#363636">105</text><text x="287.4" y="276.86" font-size="8.13" text-anchor="middle" fill="#363636" stroke="#363636">0</text><text x="316.24" y="276.86" font-size="8.13" text-anchor="middle" fill="#363636" stroke="#363636">200</text><text x="345.09" y="276.86" font-size="8.13" text-anchor="middle" fill="#363636" stroke="#363636">400</text><text x="373.93" y="276.86" font-size="8.13" text-anchor="middle" fill="#363636" stroke="#363636">600</text><text x="402.77" y="276.86" font-size="8.13" text-anchor="middle" fill="#363636" stroke="#363636">800</text><text x="431.61" y="276.86" font-size="8.13" text-anchor="middle" fill="#363636" stroke="#363636">1000</text><text x="460.46" y="276.86" font-size="8.13" text-anchor="middle" fill="#363636" stroke="#363636">1200</text><text x="489.3" y="276.86" font-size="8.13" text-anchor="middle" fill="#363636" stroke="#363636">1400</text><text x="388.75" y="287.3" font-size="8.75" text-anchor="middle" fill="#363636" stroke="#363636">Cycle Number</text><text transform="translate(270.4 217) rotate(-90)" font-size="8.75" text-anchor="middle" fill="#363636" stroke="#363636">SOH (%)</text><text x="383.5" y="306.8" font-size="12.4" font-weight="bold" text-anchor="middle" fill="#0a0a0a" stroke="#0a0a0a">(e)</text><text x="437.9" y="176.8" font-size="7.25" fill="#111111" stroke="#111111">Target SOH</text><text x="437.9" y="185.8" font-size="7.25" fill="#111111" stroke="#111111">Estimated SOH</text><text x="547.1" y="269.7" font-size="7.92" text-anchor="end" fill="#363636" stroke="#363636">80</text><text x="547.1" y="249.9" font-size="7.92" text-anchor="end" fill="#363636" stroke="#363636">85</text><text x="547.1" y="230.1" font-size="7.92" text-anchor="end" fill="#363636" stroke="#363636">90</text><text x="547.1" y="210.3" font-size="7.92" text-anchor="end" fill="#363636" stroke="#363636">95</text><text x="547.1" y="190.5" font-size="7.92" text-anchor="end" fill="#363636" stroke="#363636">100</text><text x="547.1" y="170.7" font-size="7.92" text-anchor="end" fill="#363636" stroke="#363636">105</text><text x="548.7" y="277.31" font-size="7.92" text-anchor="middle" fill="#363636" stroke="#363636">0</text><text x="616" y="277.31" font-size="7.92" text-anchor="middle" fill="#363636" stroke="#363636">500</text><text x="683.3" y="277.31" font-size="7.92" text-anchor="middle" fill="#363636" stroke="#363636">1000</text><text x="750.6" y="277.31" font-size="7.92" text-anchor="middle" fill="#363636" stroke="#363636">1500</text><text x="649.5" y="287.7" font-size="8.7" text-anchor="middle" fill="#363636" stroke="#363636">Cycle Number</text><text transform="translate(530.8 217.3) rotate(-90)" font-size="8.85" text-anchor="middle" fill="#363636" stroke="#363636">SOH (%)</text><text x="645" y="306.2" font-size="12.2" font-weight="bold" text-anchor="middle" fill="#0a0a0a" stroke="#0a0a0a">(f)</text><text x="698.9" y="177.4" font-size="7.25" fill="#111111" stroke="#111111">Target SOH</text><text x="698.9" y="186.6" font-size="7.25" fill="#111111" stroke="#111111">Estimated SOH</text><text x="154.8" y="433.54" font-size="8.03" text-anchor="end" fill="#363636" stroke="#363636">85</text><text x="154.8" y="400.54" font-size="8.03" text-anchor="end" fill="#363636" stroke="#363636">90</text><text x="154.8" y="367.54" font-size="8.03" text-anchor="end" fill="#363636" stroke="#363636">95</text><text x="154.8" y="334.54" font-size="8.03" text-anchor="end" fill="#363636" stroke="#363636">100</text><text x="156.4" y="441.19" font-size="8.03" text-anchor="middle" fill="#363636" stroke="#363636">0</text><text x="196.96" y="441.19" font-size="8.03" text-anchor="middle" fill="#363636" stroke="#363636">200</text><text x="237.52" y="441.19" font-size="8.03" text-anchor="middle" fill="#363636" stroke="#363636">400</text><text x="278.08" y="441.19" font-size="8.03" text-anchor="middle" fill="#363636" stroke="#363636">600</text><text x="318.64" y="441.19" font-size="8.03" text-anchor="middle" fill="#363636" stroke="#363636">800</text><text x="359.2" y="441.19" font-size="8.03" text-anchor="middle" fill="#363636" stroke="#363636">1000</text><text x="258" y="451.6" font-size="8.75" text-anchor="middle" fill="#363636" stroke="#363636">Cycle Number</text><text transform="translate(139 380.8) rotate(-90)" font-size="8.6" text-anchor="middle" fill="#363636" stroke="#363636">SOH (%)</text><text x="253" y="471.3" font-size="12.6" font-weight="bold" text-anchor="middle" fill="#0a0a0a" stroke="#0a0a0a">(g)</text><text x="307.4" y="341.2" font-size="7.25" fill="#111111" stroke="#111111">Target SOH</text><text x="307.4" y="350.2" font-size="7.25" fill="#111111" stroke="#111111">Estimated SOH</text><text x="415.8" y="433.28" font-size="8.13" text-anchor="end" fill="#363636" stroke="#363636">85</text><text x="415.8" y="400.24" font-size="8.13" text-anchor="end" fill="#363636" stroke="#363636">90</text><text x="415.8" y="367.21" font-size="8.13" text-anchor="end" fill="#363636" stroke="#363636">95</text><text x="415.8" y="334.18" font-size="8.13" text-anchor="end" fill="#363636" stroke="#363636">100</text><text x="417.4" y="440.96" font-size="8.13" text-anchor="middle" fill="#363636" stroke="#363636">0</text><text x="451.18" y="440.96" font-size="8.13" text-anchor="middle" fill="#363636" stroke="#363636">200</text><text x="484.97" y="440.96" font-size="8.13" text-anchor="middle" fill="#363636" stroke="#363636">400</text><text x="518.75" y="440.96" font-size="8.13" text-anchor="middle" fill="#363636" stroke="#363636">600</text><text x="552.53" y="440.96" font-size="8.13" text-anchor="middle" fill="#363636" stroke="#363636">800</text><text x="586.32" y="440.96" font-size="8.13" text-anchor="middle" fill="#363636" stroke="#363636">1000</text><text x="620.1" y="440.96" font-size="8.13" text-anchor="middle" fill="#363636" stroke="#363636">1200</text><text x="519" y="451.8" font-size="8.75" text-anchor="middle" fill="#363636" stroke="#363636">Cycle Number</text><text transform="translate(400.3 381) rotate(-90)" font-size="8.85" text-anchor="middle" fill="#363636" stroke="#363636">SOH (%)</text><text x="514" y="471.5" font-size="12.6" font-weight="bold" text-anchor="middle" fill="#0a0a0a" stroke="#0a0a0a">(h)</text><text x="568.7" y="341.1" font-size="7.2" fill="#111111" stroke="#111111">Target SOH</text><text x="568.7" y="350" font-size="7.2" fill="#111111" stroke="#111111">Estimated SOH</text></g></svg></body></html>
